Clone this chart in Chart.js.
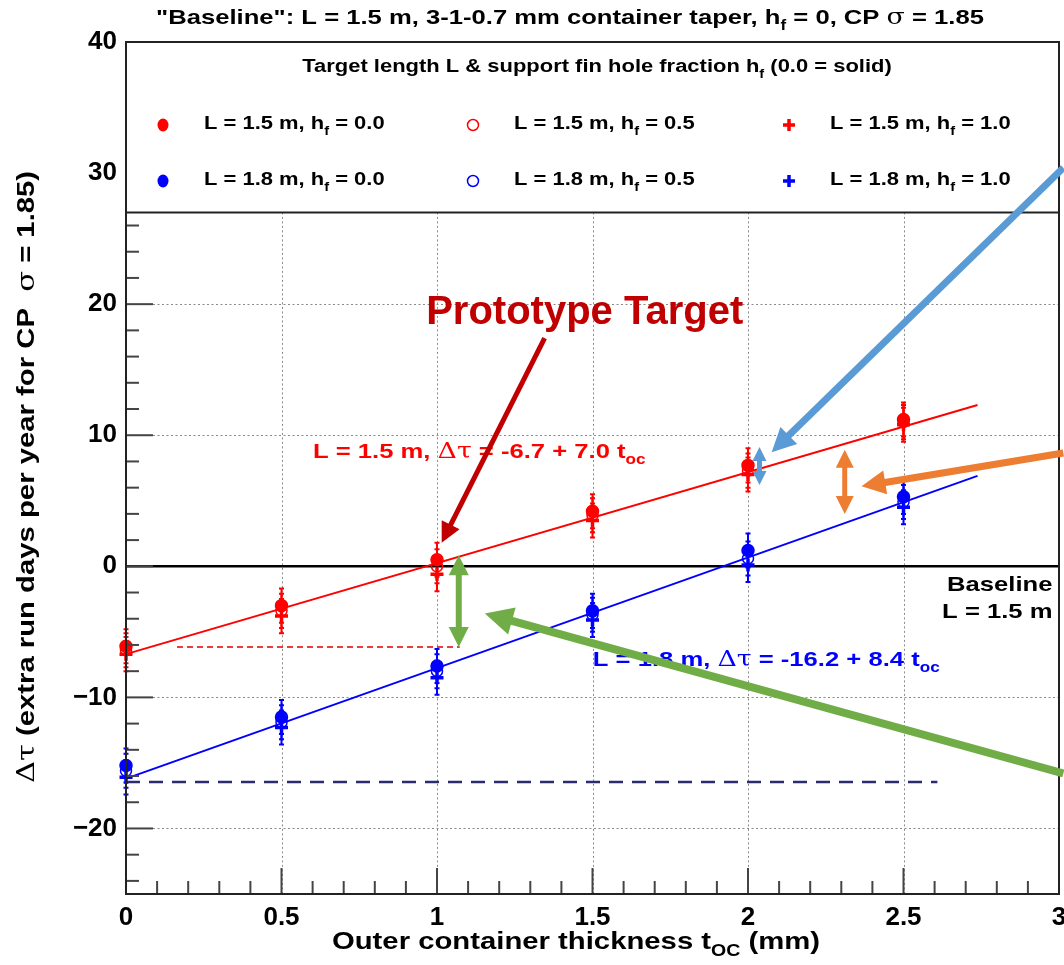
<!DOCTYPE html>
<html lang="en">
<head>
<meta charset="UTF-8">
<title>Outer container thickness scan</title>
<script src="https://cdn.jsdelivr.net/npm/chart.js"></script>
<style>
  body { margin: 0; background: #fff; }
</style>
</head>
<body>
<canvas id="scanChart" width="1064" height="965"></canvas>
<script>
// outer container thickness t_oc (mm)
const thickness = [0, 0.5, 1, 1.5, 2, 2.5];

// L = 1.5 m, hole fraction 0.0 / 0.5 / 1.0
const red_h00 = [-6.1, -3.0, 0.5, 4.2, 7.7, 11.2];
const red_h05 = [-6.4, -3.4, 0.0, 3.9, 7.3, 11.0];
const red_h10 = [-6.7, -3.8, -0.6, 3.5, 7.0, 10.8];
// L = 1.8 m
const blue_h00 = [-15.2, -11.5, -7.6, -3.4, 1.2, 5.3];
const blue_h05 = [-15.6, -11.9, -8.0, -3.7, 0.6, 4.9];
const blue_h10 = [-16.1, -12.3, -8.5, -4.1, 0.1, 4.5];
const errBar = 1.3;

// fit lines, end points
const redFitX = [0, 2.738];
const redFitY = [-6.7, 12.3];
const blueFitX = [0, 2.738];
const blueFitY = [-16.2, 6.9];

// dashed reference levels
const redRefX = [0.164, 1.073];
const redRefY = [-6.15, -6.15];
const navyRefX = [0, 2.609];
const navyRefY = [-16.45, -16.45];

const xTickLabels = ['0', '0.5', '1', '1.5', '2', '2.5', '3'];
const yTickLabels = ['\u221220', '\u221210', '0', '10', '20', '30', '40'];
const legendFloor = 27.0;   // bottom of the legend box (y units)

const FONT = '"Liberation Sans", Arial, sans-serif';
const RED = '#ff0000', BLUE = '#0000ff';
const WIDE = 1.22;   // the plot text is stretched sideways in the original

const toPts = (xs, ys) => xs.map((x, i) => ({ x: x, y: ys[i] }));

// ---- text helpers (bold text, plain greek, subscripts) ----
function partFont(kind, size) {
  if (kind === 's') return 'bold ' + Math.round(size * 0.68) + 'px ' + FONT;
  if (kind === 'n') return (size + 1) + 'px "DejaVu Serif", serif';
  return 'bold ' + size + 'px ' + FONT;
}
function drawRich(ctx, parts, x, y, size, color, align, sx) {
  sx = sx || WIDE;
  let total = 0;
  const widths = parts.map(p => { ctx.font = partFont(p[1], size); const w = ctx.measureText(p[0]).width; total += w; return w; });
  const start = align === 'center' ? x - total * sx / 2 : align === 'right' ? x - total * sx : x;
  const base = y + size * 0.36;
  ctx.save();
  ctx.translate(start, 0);
  ctx.scale(sx, 1);
  ctx.fillStyle = color;
  ctx.textAlign = 'left';
  ctx.textBaseline = 'alphabetic';
  let cx = 0;
  parts.forEach((p, i) => {
    ctx.font = partFont(p[1], size);
    ctx.fillText(p[0], cx, p[1] === 's' ? base + size * 0.3 : base);
    cx += widths[i];
  });
  ctx.restore();
}
function arrow(ctx, x1, y1, x2, y2, color, w, head, both) {
  const a = Math.atan2(y2 - y1, x2 - x1);
  const hw = head * 0.5;
  const tip = (px, py, ang) => {
    ctx.beginPath();
    ctx.moveTo(px, py);
    ctx.lineTo(px - head * Math.cos(ang) + hw * Math.sin(ang), py - head * Math.sin(ang) - hw * Math.cos(ang));
    ctx.lineTo(px - head * Math.cos(ang) - hw * Math.sin(ang), py - head * Math.sin(ang) + hw * Math.cos(ang));
    ctx.closePath();
    ctx.fill();
  };
  const sx = both ? x1 + head * 0.8 * Math.cos(a) : x1, sy = both ? y1 + head * 0.8 * Math.sin(a) : y1;
  ctx.strokeStyle = color; ctx.fillStyle = color; ctx.lineWidth = w; ctx.lineCap = 'butt';
  ctx.beginPath();
  ctx.moveTo(sx, sy);
  ctx.lineTo(x2 - head * 0.8 * Math.cos(a), y2 - head * 0.8 * Math.sin(a));
  ctx.stroke();
  tip(x2, y2, a);
  if (both) tip(x1, y1, a + Math.PI);
}

// annotation arrows, in data units
const arrows = [
  { from: [3.014, 30.4], to: [2.076, 8.7], color: '#5b9bd5', w: 7, head: 24, both: false },
  { from: [2.037, 9.1], to: [2.037, 6.2], color: '#5b9bd5', w: 5, head: 14, both: true },
  { from: [3.014, 8.64], to: [2.365, 6.1], color: '#ed7d31', w: 7, head: 24, both: false },
  { from: [2.311, 8.9], to: [2.311, 4.0], color: '#ed7d31', w: 5, head: 18, both: true },
  { from: [3.014, -15.8], to: [1.154, -3.6], color: '#70ad47', w: 8, head: 28, both: false },
  { from: [1.070, 0.85], to: [1.070, -6.15], color: '#70ad47', w: 6, head: 20, both: true },
  { from: [1.346, 17.4], to: [1.015, 1.8], color: '#c00000', w: 5, head: 20, both: false }
];
// text notes, in data units
const notes = [
  { x: 1.475, y: 19.6, parts: [['Prototype Target', 'b']], size: 40, color: '#c00000', align: 'center', sx: 1 },
  { x: 0.601, y: 8.85, parts: [['L = 1.5 m, ', 'b'], ['\u0394\u03c4', 'n'], [' = -6.7 + 7.0 t', 'b'], ['oc', 's']], size: 21, color: RED, align: 'left' },
  { x: 1.501, y: -7.0, parts: [['L = 1.8 m, ', 'b'], ['\u0394\u03c4', 'n'], [' = -16.2 + 8.4 t', 'b'], ['oc', 's']], size: 21, color: BLUE, align: 'left' },
  { x: 2.979, y: -1.3, parts: [['Baseline', 'b']], size: 21, color: '#000', align: 'right' },
  { x: 2.979, y: -3.35, parts: [['L = 1.5 m', 'b']], size: 21, color: '#000', align: 'right' }
];
const legendItems = [
  { text: '1.5', hf: '0.0', color: RED, kind: 'filled' },
  { text: '1.5', hf: '0.5', color: RED, kind: 'open' },
  { text: '1.5', hf: '1.0', color: RED, kind: 'cross' },
  { text: '1.8', hf: '0.0', color: BLUE, kind: 'filled' },
  { text: '1.8', hf: '0.5', color: BLUE, kind: 'open' },
  { text: '1.8', hf: '1.0', color: BLUE, kind: 'cross' }
];

function marker(ctx, kind, color, X, Y) {
  ctx.fillStyle = color; ctx.strokeStyle = color;
  if (kind === 'filled') { ctx.beginPath(); ctx.ellipse(X, Y, 5.5, 6.5, 0, 0, Math.PI * 2); ctx.fill(); }
  else if (kind === 'open') { ctx.lineWidth = 1.5; ctx.beginPath(); ctx.arc(X, Y, 5.5, 0, Math.PI * 2); ctx.stroke(); }
  else { ctx.lineWidth = 3.5; ctx.beginPath(); ctx.moveTo(X - 6, Y); ctx.lineTo(X + 6, Y); ctx.moveTo(X, Y - 6); ctx.lineTo(X, Y + 6); ctx.stroke(); }
}

const decor = {
  id: 'decor',
  beforeDatasetsDraw(chart) {
    const { ctx, chartArea: a, scales: { x, y } } = chart;
    const top = y.getPixelForValue(legendFloor);
    ctx.save();
    ctx.strokeStyle = '#8a8a8a'; ctx.lineWidth = 1; ctx.setLineDash([2, 2.5]);
    x.ticks.forEach(t => {
      if (t.value <= x.min || t.value >= x.max) return;
      const X = Math.round(x.getPixelForValue(t.value)) + 0.5;
      ctx.beginPath(); ctx.moveTo(X, top); ctx.lineTo(X, a.bottom); ctx.stroke();
    });
    y.ticks.forEach(t => {
      if (t.value % 10 !== 0 || t.value === 0 || t.value >= legendFloor) return;
      const Y = Math.round(y.getPixelForValue(t.value)) + 0.5;
      ctx.beginPath(); ctx.moveTo(a.left, Y); ctx.lineTo(a.right, Y); ctx.stroke();
    });
    ctx.setLineDash([]);
    // error bars
    chart.data.datasets.forEach(ds => {
      if (!ds.errBar) return;
      ctx.strokeStyle = ds.borderColor; ctx.lineWidth = 2;
      ds.data.forEach(p => {
        const X = x.getPixelForValue(p.x);
        const y1 = y.getPixelForValue(p.y + ds.errBar), y2 = y.getPixelForValue(p.y - ds.errBar);
        ctx.beginPath(); ctx.moveTo(X, y1); ctx.lineTo(X, y2);
        ctx.moveTo(X - 2.5, y1); ctx.lineTo(X + 2.5, y1);
        ctx.moveTo(X - 2.5, y2); ctx.lineTo(X + 2.5, y2);
        ctx.stroke();
      });
    });
    ctx.restore();
  },
  afterDraw(chart) {
    const { ctx, chartArea: a, scales: { x, y } } = chart;
    const legendBottom = y.getPixelForValue(legendFloor);
    ctx.save();
    // tick marks
    ctx.strokeStyle = '#444'; ctx.lineWidth = 2;
    for (let k = -12; k <= 20; k++) {
      const v = 2 * k;
      const Y = y.getPixelForValue(v);
      if (Y <= legendBottom + 2 || Y >= a.bottom - 1) continue;
      const len = v % 10 === 0 ? 27 : 13;
      ctx.beginPath(); ctx.moveTo(a.left, Y); ctx.lineTo(a.left + len, Y); ctx.stroke();
    }
    for (let k = 1; k < 30; k++) {
      const X = x.getPixelForValue(k / 10);
      const len = k % 5 === 0 ? 26 : 13;
      ctx.beginPath(); ctx.moveTo(X, a.bottom); ctx.lineTo(X, a.bottom - len); ctx.stroke();
    }
    // frame and legend box
    ctx.strokeStyle = '#222'; ctx.lineWidth = 2;
    ctx.strokeRect(a.left, a.top, a.right - a.left, a.bottom - a.top);
    ctx.beginPath(); ctx.moveTo(a.left, legendBottom); ctx.lineTo(a.right, legendBottom); ctx.stroke();
    // legend
    drawRich(ctx, [['Target length L & support fin hole fraction h', 'b'], ['f', 's'], [' (0.0 = solid)', 'b']], 597, 66, 18, '#000', 'center');
    const colX = [163, 473, 789], rowY = [125, 181];
    legendItems.forEach((it, i) => {
      const cx = colX[i % 3], cy = rowY[Math.floor(i / 3)];
      marker(ctx, it.kind, it.color, cx, cy);
      drawRich(ctx, [['L = ' + it.text + ' m, h', 'b'], ['f', 's'], [' = ' + it.hf, 'b']], cx + 41, cy - 2, 18, '#000', 'left');
    });
    // titles
    drawRich(ctx, [['"Baseline": L = 1.5 m, 3-1-0.7 mm container taper, h', 'b'], ['f', 's'], [' = 0, CP ', 'b'], ['\u03c3', 'n'], [' = 1.85', 'b']], 570, 16, 21, '#000', 'center');
    drawRich(ctx, [['Outer container thickness t', 'b'], ['OC', 's'], [' (mm)', 'b']], 576, 940, 24, '#000', 'center');
    ctx.save();
    ctx.translate(25, 477); ctx.rotate(-Math.PI / 2);
    drawRich(ctx, [['\u0394\u03c4', 'n'], [' (extra run days per year for CP  ', 'b'], ['\u03c3', 'n'], [' = 1.85)', 'b']], 0, 0, 24, '#000', 'center');
    ctx.restore();
    // notes
    notes.forEach(n => drawRich(ctx, n.parts, x.getPixelForValue(n.x), y.getPixelForValue(n.y), n.size, n.color, n.align, n.sx));
    // arrows
    arrows.forEach(r => arrow(ctx, x.getPixelForValue(r.from[0]), y.getPixelForValue(r.from[1]),
      x.getPixelForValue(r.to[0]), y.getPixelForValue(r.to[1]), r.color, r.w, r.head, r.both));
    ctx.restore();
  }
};

const lineSet = (xs, ys, color, width, dash, order) => ({
  type: 'line', data: toPts(xs, ys), borderColor: color, borderWidth: width,
  borderDash: dash, pointRadius: 0, fill: false, order: order, clip: false
});
const pointSet = (ys, color, style, order) => ({
  type: 'scatter', data: toPts(thickness, ys), borderColor: color,
  backgroundColor: style === 'open' ? 'rgba(0,0,0,0)' : color,
  pointStyle: style === 'cross' ? 'cross' : 'circle',
  pointRadius: style === 'cross' ? 6.5 : (style === 'open' ? 5.5 : 6),
  pointBorderWidth: style === 'cross' ? 3.5 : 1.5,
  errBar: errBar, order: order, clip: false
});

new Chart(document.getElementById('scanChart'), {
  data: {
    datasets: [
      pointSet(red_h00, RED, 'filled', 1),
      pointSet(blue_h00, BLUE, 'filled', 1),
      pointSet(red_h10, RED, 'cross', 2),
      pointSet(blue_h10, BLUE, 'cross', 2),
      pointSet(red_h05, RED, 'open', 3),
      pointSet(blue_h05, BLUE, 'open', 3),
      lineSet(redFitX, redFitY, RED, 2, [], 5),
      lineSet(blueFitX, blueFitY, BLUE, 2, [], 5),
      lineSet(redRefX, redRefY, '#e00000', 1.5, [6, 4], 6),
      lineSet(navyRefX, navyRefY, '#2b2b70', 2.5, [14, 9], 6),
      lineSet([0, 3], [0, 0], '#000', 2.5, [], 7)
    ]
  },
  options: {
    responsive: false,
    animation: false,
    events: [],
    layout: { autoPadding: false, padding: { top: 42, right: 5, left: 0, bottom: 0 } },
    plugins: { legend: { display: false }, tooltip: { enabled: false } },
    scales: {
      x: {
        type: 'linear', min: 0, max: 3,
        grid: { display: false, drawTicks: false }, border: { display: false },
        ticks: {
          stepSize: 0.5, autoSkip: false, maxRotation: 0, padding: 8, color: '#000',
          font: { family: FONT, size: 26, weight: 'bold' },
          callback: v => xTickLabels[Math.round(v / 0.5)] ?? ''
        },
        afterFit(s) { s.height = 71; s.paddingLeft = 0; s.paddingRight = 0; }
      },
      y: {
        type: 'linear', min: -25, max: 40,
        grid: { display: false, drawTicks: false }, border: { display: false },
        ticks: {
          stepSize: 2, autoSkip: false, padding: 9, color: '#000',
          font: { family: FONT, size: 26, weight: 'bold' },
          callback: v => (v % 10 === 0 ? yTickLabels[(v + 20) / 10] : '')
        },
        afterFit(s) { s.width = 126; s.paddingTop = 0; s.paddingBottom = 0; }
      }
    }
  },
  plugins: [decor]
});
</script>
</body>
</html>
